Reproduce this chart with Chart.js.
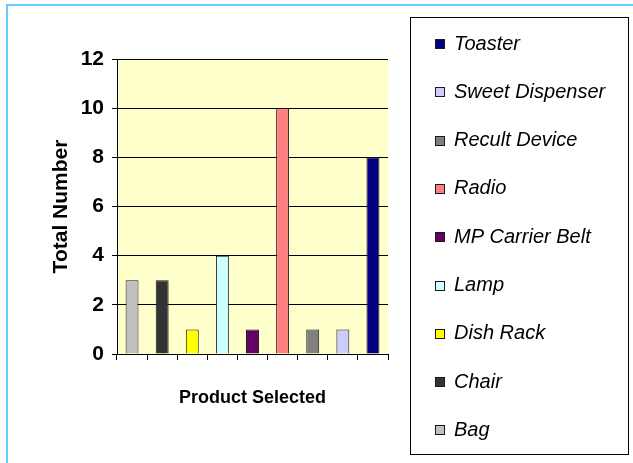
<!DOCTYPE html>
<html>
<head>
<meta charset="utf-8">
<script src="https://cdn.jsdelivr.net/npm/chart.js@4.4.0/dist/chart.umd.min.js"></script>
<style>
  html, body { margin: 0; padding: 0; background: #fff; }
</style>
</head>
<body>
<canvas id="chart" width="633" height="463"></canvas>
<script>
// chart values
const products = ['Bag', 'Chair', 'Dish Rack', 'Lamp', 'MP Carrier Belt', 'Radio', 'Recult Device', 'Sweet Dispenser', 'Toaster'];
const totals = [3, 3, 1, 4, 1, 10, 1, 1, 8];
const yTicks = [0, 2, 4, 6, 8, 10, 12];

// Excel-ish default palette
const barColors = ['#C0C0C0', '#333333', '#FFFF00', '#CCFFFF', '#660066', '#FF8080', '#808080', '#CCCCFF', '#000080'];

const FONT = '"Liberation Sans", Arial, sans-serif';

// one dataset per product, so every product gets its own legend entry
const datasets = products.map((name, i) => ({
  label: name,
  data: products.map((_, j) => (j === i ? totals[i] : null)),
  backgroundColor: barColors[i],
  borderColor: '#1a1a1a',
  borderWidth: 1,
  skipNull: true,
  categoryPercentage: 1,
  barPercentage: 0.43
}));

// white page, pale yellow plot, light blue frame
const framePlugin = {
  id: 'frame',
  beforeDraw(chart) {
    const { ctx, chartArea: a } = chart;
    ctx.save();
    ctx.fillStyle = '#fff';
    ctx.fillRect(0, 0, chart.width, chart.height);
    ctx.fillStyle = '#FFFFCC';
    ctx.fillRect(a.left, a.top, a.right - a.left, a.bottom - a.top);
    ctx.strokeStyle = '#66CCFF';
    ctx.lineWidth = 2;
    ctx.beginPath();
    ctx.moveTo(7, chart.height);
    ctx.lineTo(7, 5);
    ctx.lineTo(chart.width, 5);
    ctx.stroke();
    ctx.restore();
  }
};

// boxed legend on the right, listed in reverse like Excel does
const legendBox = {
  id: 'legendBox',
  afterDraw(chart) {
    const ctx = chart.ctx;
    ctx.save();
    ctx.strokeStyle = '#000';
    ctx.lineWidth = 1;
    ctx.strokeRect(410.5, 17.5, 218, 437);
    ctx.font = 'italic 20px ' + FONT;
    ctx.textBaseline = 'middle';
    const items = chart.data.datasets.slice().reverse();
    items.forEach((ds, k) => {
      const y = 44 + k * 48.3;
      ctx.fillStyle = ds.backgroundColor;
      ctx.fillRect(435, Math.round(y) - 5, 10, 10);
      ctx.strokeStyle = '#1a1a1a';
      ctx.strokeRect(435.5, Math.round(y) - 4.5, 9, 9);
      ctx.fillStyle = '#000';
      ctx.fillText(ds.label, 454, y);
    });
    ctx.restore();
  }
};

new Chart(document.getElementById('chart'), {
  type: 'bar',
  data: { labels: products, datasets: datasets },
  options: {
    responsive: false,
    animation: false,
    layout: { padding: { left: 0, top: 59, right: 245, bottom: 0 } },
    plugins: {
      legend: { display: false },
      tooltip: { enabled: false }
    },
    scales: {
      x: {
        grid: { display: true, drawOnChartArea: false, offset: true, tickLength: 6, color: '#000', tickColor: '#000' },
        border: { color: '#000', width: 1 },
        ticks: { callback: () => '', maxRotation: 0, autoSkip: false },
        title: {
          display: true,
          text: 'Product Selected',
          color: '#000',
          font: { family: FONT, size: 18, weight: 'bold' },
          padding: { top: 0, bottom: 54 }
        },
        afterFit: s => { s.height = 109; }
      },
      y: {
        min: yTicks[0],
        max: yTicks[yTicks.length - 1],
        ticks: {
          stepSize: yTicks[1] - yTicks[0],
          color: '#000',
          padding: 8,
          font: { family: FONT, size: 21, weight: 'bold' }
        },
        grid: { color: '#000', tickLength: 5, tickColor: '#000' },
        border: { color: '#000', width: 1 },
        title: {
          display: true,
          text: 'Total Number',
          color: '#000',
          font: { family: FONT, size: 21, weight: 'bold' },
          padding: { top: 49, bottom: 0 }
        },
        afterFit: s => { s.width = 117; }
      }
    }
  },
  plugins: [framePlugin, legendBox]
});
</script>
</body>
</html>
